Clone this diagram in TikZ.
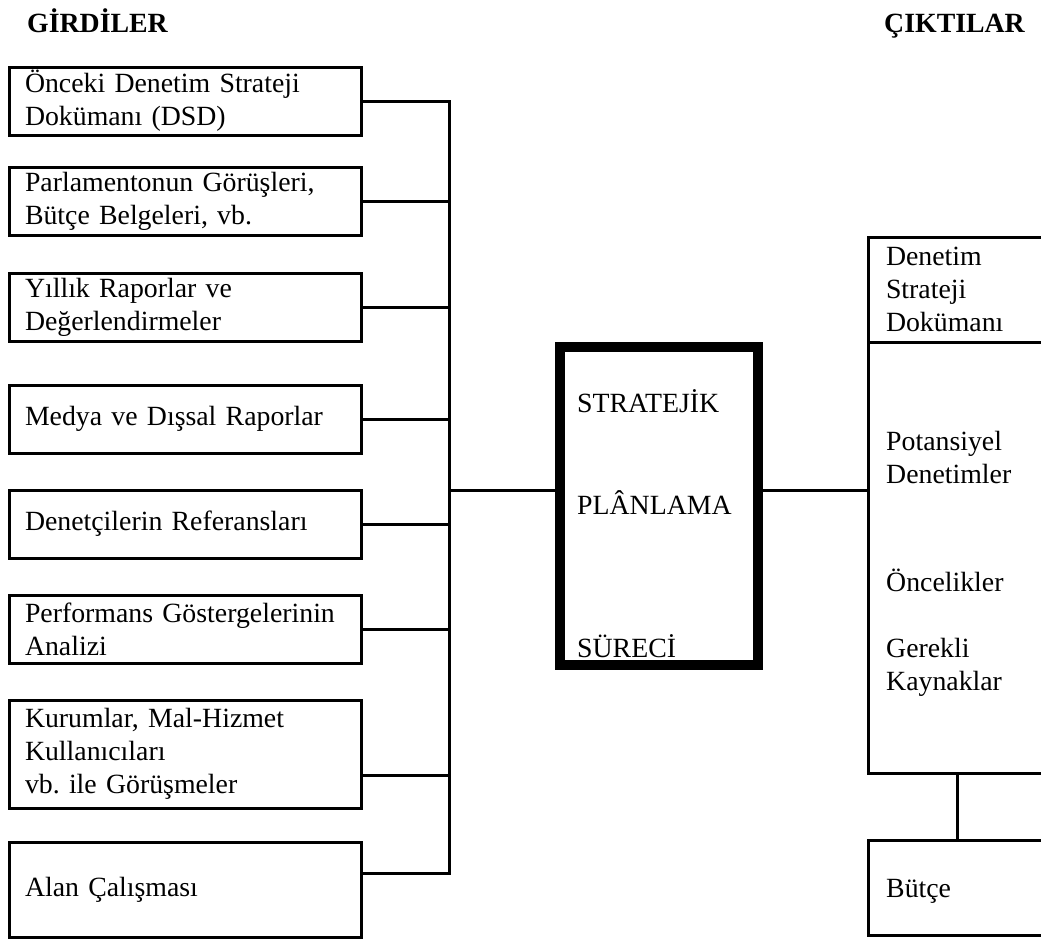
\documentclass[tikz,border=0pt]{standalone}
\usepackage{fontspec}
\setmainfont{Liberation Serif}
\frenchspacing
\begin{document}
\begin{tikzpicture}[x=1pt,y=-1pt,
  every node/.style={font=\fontsize{27.8}{33}\selectfont},
  wire/.style={line width=3pt},
  inbox/.style={draw, line width=3pt, minimum width=352pt, minimum height=68pt,
    text width=320pt, inner xsep=16pt, inner ysep=0pt, align=left},
  outbox/.style={draw, line width=3pt, minimum width=178pt,
    text width=142pt, inner xsep=18pt, inner ysep=0pt, align=left},
  core/.style={draw, line width=10pt, minimum width=198pt, minimum height=318pt, inner sep=0pt},
  lbl/.style={anchor=base west, inner sep=0pt},
  head/.style={inner sep=0pt, font=\fontsize{27.8}{33}\selectfont\bfseries}]
\useasboundingbox (0,0) rectangle (1041,938);
\clip (0,0) rectangle (1041,938);

% headings
\node[head, anchor=base west] (hin) at (27,32) {GİRDİLER};
\node[head, anchor=base east] (hout) at (1025,32) {ÇIKTILAR};

% input boxes
\node[inbox] (i1) at (185,101) {Önceki Denetim Strateji\\Dokümanı (DSD)};
\node[inbox] (i2) at (185,201) {Parlamentonun Görüşleri,\\Bütçe Belgeleri, vb.};
\node[inbox] (i3) at (185,307) {Yıllık Raporlar ve\\Değerlendirmeler};
\node[inbox] (i4) at (185,419) {Medya ve Dışsal Raporlar};
\node[inbox] (i5) at (185,524) {Denetçilerin Referansları};
\node[inbox] (i6) at (185,629) {Performans Göstergelerinin\\Analizi};
\node[inbox, minimum height=108pt] (i7) at (185,754) {Kurumlar, Mal-Hizmet\\Kullanıcıları\\vb. ile Görüşmeler};
\node[inbox, minimum height=95pt] (i8) at (185,889.5) {Alan Çalışması};

% central process
\node[core] (sp) at (659,506) {};
\node[lbl] (sp1) at (577,412) {STRATEJİK};
\node[lbl] (sp2) at (577,514) {PLÂNLAMA};
\node[lbl] (sp3) at (577,657) {SÜRECİ};

% outputs
\node[outbox, minimum height=105pt] (dsd) at (957,289.5) {Denetim\\Strateji\\Dokümanı};
\node[outbox, minimum height=431pt] (pot) at (957,557.5) {};
\node[lbl] (o1) at (886,450) {Potansiyel};
\node[lbl] (o2) at (886,483) {Denetimler};
\node[lbl] (o3) at (886,591) {Öncelikler};
\node[lbl] (o4) at (886,657) {Gerekli};
\node[lbl] (o5) at (886,690) {Kaynaklar};
\node[outbox, minimum height=95pt] (bud) at (957,887.5) {};
\node[lbl] (bt) at (886,897) {Bütçe};

% collecting bus
\coordinate (j) at (449,490);
\draw[wire] (i1.east) -- (i1.east -| j) |- ([yshift=16.5pt]i8.east);
\foreach \b in {i2,i3,i4,i5,i6}
  \draw[wire] (\b.east) -- (\b.east -| j);
\draw[wire] ([yshift=-21pt]i7.east) -- ([yshift=-21pt]i7.east -| j);

% links through the process
\draw[wire] (j) -- (j -| sp.west);
\draw[wire] (sp.east |- j) -- (j -| pot.west);
\draw[wire] (pot.south) -- (bud.north);
\end{tikzpicture}
\end{document}
